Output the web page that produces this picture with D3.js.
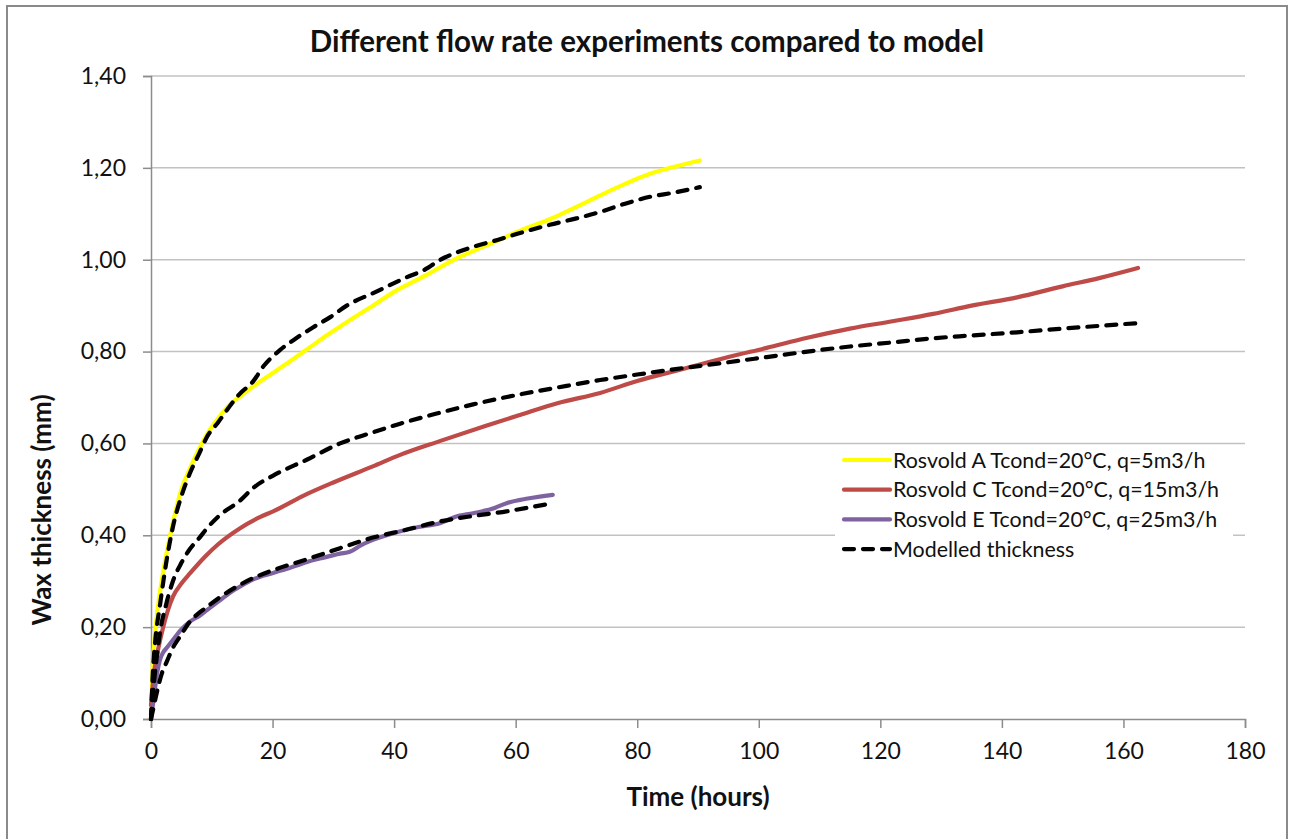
<!DOCTYPE html>
<html>
<head>
<meta charset="utf-8">
<script src="https://cdn.jsdelivr.net/npm/d3@7"></script>
<style>
  html, body { margin: 0; padding: 0; background: #fff; }
  svg { display: block; font-family: Lato, "Open Sans", sans-serif; }
</style>
</head>
<body>
<svg id="chart" width="1293" height="839"></svg>
<script>
// Rosvold A, Tcond=20°C, q=5 m3/h
const hoursA = [0, 0.3, 0.7, 1.2, 2, 3, 4, 5, 6.4, 8, 9.2, 10.5, 12.5, 14.6, 16.8, 20, 23, 25.7, 29, 32.2, 36.5, 40, 44.8, 50.3, 55, 60.7, 65.6, 70, 73.9, 78, 82.1, 86, 90.3];
const thickA = [0, 0.12, 0.19, 0.25, 0.32, 0.39, 0.45, 0.5, 0.545, 0.59, 0.62, 0.645, 0.678, 0.702, 0.724, 0.753, 0.78, 0.805, 0.836, 0.864, 0.9, 0.93, 0.963, 1.003, 1.03, 1.063, 1.088, 1.115, 1.14, 1.165, 1.187, 1.202, 1.216];

// Rosvold C, Tcond=20°C, q=15 m3/h
const hoursC = [0, 0.5, 1, 2, 3.6, 5, 6.4, 9, 11, 14.6, 18, 20.1, 25.7, 30, 36.5, 41, 47.5, 55, 60.7, 67, 73.9, 80, 87.5, 95, 101.3, 108, 115, 122, 128.7, 135, 142.5, 150, 156, 162.4];
const thickC = [0.03, 0.1, 0.14, 0.2, 0.266, 0.295, 0.317, 0.355, 0.38, 0.415, 0.44, 0.452, 0.49, 0.515, 0.55, 0.575, 0.605, 0.638, 0.662, 0.688, 0.71, 0.736, 0.762, 0.788, 0.808, 0.83, 0.85, 0.866, 0.882, 0.9, 0.918, 0.942, 0.96, 0.982];

// Rosvold E, Tcond=20°C, q=25 m3/h
const hoursE = [0, 0.3, 0.6, 1, 1.5, 2, 2.6, 3.6, 5, 6.4, 8, 9.2, 11, 13, 14.6, 17, 20.1, 23, 25.7, 28, 31.1, 32.7, 34.5, 36.5, 40, 44, 47.5, 50, 53, 56, 58.5, 62, 66.1];
const thickE = [0.01, 0.03, 0.06, 0.1, 0.13, 0.145, 0.155, 0.172, 0.195, 0.212, 0.225, 0.237, 0.255, 0.275, 0.288, 0.305, 0.318, 0.33, 0.342, 0.35, 0.36, 0.364, 0.378, 0.39, 0.405, 0.418, 0.426, 0.44, 0.448, 0.457, 0.47, 0.48, 0.488];

// Modelled thickness for each run
const modelHoursA = [0, 0.3, 0.7, 1.5, 2.5, 3.6, 5, 6.4, 8, 9.2, 11, 12.5, 14.6, 16.8, 18.5, 21.2, 24, 26.7, 29.5, 32.2, 37, 42.1, 45, 47.5, 53, 57, 60.7, 65.6, 70, 73.9, 78, 82.1, 86, 90.3];
const modelThickA = [0, 0.1, 0.17, 0.25, 0.34, 0.418, 0.485, 0.535, 0.58, 0.614, 0.645, 0.673, 0.708, 0.735, 0.768, 0.803, 0.83, 0.853, 0.875, 0.9, 0.93, 0.962, 0.978, 0.999, 1.028, 1.043, 1.058, 1.076, 1.09, 1.104, 1.122, 1.137, 1.146, 1.158];

const modelHoursC = [0, 0.5, 1, 1.5, 2.5, 3.6, 5, 6.4, 8, 9.2, 11, 14.6, 17, 20.1, 25.7, 31.1, 36, 41, 47, 53, 60, 67, 73.9, 80, 87.5, 94, 101.3, 108, 115, 122, 128.7, 135, 142.5, 150, 156, 162.4];
const modelThickC = [0, 0.08, 0.14, 0.19, 0.25, 0.3, 0.34, 0.37, 0.395, 0.415, 0.44, 0.475, 0.505, 0.53, 0.565, 0.6, 0.622, 0.643, 0.665, 0.685, 0.705, 0.722, 0.738, 0.75, 0.764, 0.775, 0.788, 0.8, 0.811, 0.82, 0.829, 0.835, 0.842, 0.85, 0.856, 0.862];

const modelHoursE = [0, 0.5, 1, 1.8, 2.6, 3.6, 4.8, 6.4, 8, 9.2, 11, 14.6, 17, 20.1, 25.7, 31.1, 36.5, 42, 47.5, 53, 58.5, 62, 66.1];
const modelThickE = [0, 0.03, 0.06, 0.1, 0.125, 0.155, 0.18, 0.212, 0.232, 0.244, 0.262, 0.292, 0.308, 0.324, 0.348, 0.372, 0.395, 0.412, 0.43, 0.442, 0.452, 0.46, 0.47];

const xTicks = [0, 20, 40, 60, 80, 100, 120, 140, 160, 180];
const yTicks = [0, 0.2, 0.4, 0.6, 0.8, 1.0, 1.2, 1.4];

const seriesNames = [
  "Rosvold A Tcond=20°C, q=5m3/h",
  "Rosvold C Tcond=20°C, q=15m3/h",
  "Rosvold E Tcond=20°C, q=25m3/h",
  "Modelled thickness"
];
const titleText = "Different flow rate experiments compared to model";
const xTitle = "Time (hours)";
const yTitle = "Wax thickness (mm)";

const colors = { A: "#FFFF00", C: "#BE4B48", E: "#7F63A1", model: "#000000" };

const svg = d3.select("#chart");
const plot = { left: 151, right: 1245, top: 76, bottom: 719 };

const x = d3.scaleLinear().domain([0, 180]).range([plot.left, plot.right]);
const y = d3.scaleLinear().domain([0, 1.4]).range([plot.bottom, plot.top]);

// Outer frame of the chart
svg.append("rect")
  .attr("x", 7).attr("y", 6).attr("width", 1280).attr("height", 850)
  .attr("fill", "#fff").attr("stroke", "#8a8a8a").attr("stroke-width", 2);

// Horizontal gridlines
svg.append("g").selectAll("line")
  .data(yTicks.filter(d => d > 0))
  .join("line")
  .attr("x1", plot.left).attr("x2", plot.right)
  .attr("y1", d => y(d)).attr("y2", d => y(d))
  .attr("stroke", "#c2c2c2").attr("stroke-width", 1.5);

// Axes
const fmt = d => d3.format(".2f")(d).replace(".", ",");
const yAxis = svg.append("g")
  .attr("transform", `translate(${plot.left},0)`)
  .call(d3.axisLeft(y).tickValues(yTicks).tickFormat(fmt).tickSize(8).tickPadding(17));
const xAxis = svg.append("g")
  .attr("transform", `translate(0,${plot.bottom})`)
  .call(d3.axisBottom(x).tickValues(xTicks).tickFormat(d3.format("d")).tickSize(9).tickPadding(15));

[yAxis, xAxis].forEach(g => {
  g.select(".domain").attr("stroke", "#8c8c8c").attr("stroke-width", 1.5);
  g.selectAll(".tick line").attr("stroke", "#8c8c8c").attr("stroke-width", 1.5);
  g.selectAll(".tick text")
    .attr("fill", "#111").attr("font-size", 23)
    .attr("font-family", "Lato, 'Open Sans', sans-serif");
});
xAxis.selectAll(".tick text").attr("dy", "0.71em");

// Lines
const line = d3.line().x(d => x(d[0])).y(d => y(d[1])).curve(d3.curveMonotoneX);
const zipPts = (t, v) => t.map((h, i) => [h, v[i]]);

const drawSeries = (t, v, color, dashed) => {
  const p = svg.append("path")
    .datum(zipPts(t, v))
    .attr("d", line)
    .attr("fill", "none")
    .attr("stroke", color)
    .attr("stroke-width", 4.2)
    .attr("stroke-linejoin", "round")
    .attr("stroke-linecap", "round");
  if (dashed) p.attr("stroke-dasharray", "10 9");
  return p;
};

drawSeries(hoursA, thickA, colors.A, false);
drawSeries(hoursC, thickC, colors.C, false);
drawSeries(hoursE, thickE, colors.E, false);
drawSeries(modelHoursA, modelThickA, colors.model, true);
drawSeries(modelHoursC, modelThickC, colors.model, true);
drawSeries(modelHoursE, modelThickE, colors.model, true);

// Legend
const legend = svg.append("g").attr("transform", "translate(835,446)");
legend.append("rect")
  .attr("x", 0).attr("y", 0).attr("width", 398).attr("height", 118)
  .attr("fill", "#fff");
const legendItems = [
  { name: seriesNames[0], color: colors.A, dashed: false },
  { name: seriesNames[1], color: colors.C, dashed: false },
  { name: seriesNames[2], color: colors.E, dashed: false },
  { name: seriesNames[3], color: colors.model, dashed: true }
];
const rowY = i => 14 + i * 29.7;
const li = legend.selectAll("g.item").data(legendItems).join("g")
  .attr("class", "item")
  .attr("transform", (d, i) => `translate(0,${rowY(i)})`);
li.append("line")
  .attr("x1", 9).attr("x2", 55).attr("y1", 0).attr("y2", 0)
  .attr("stroke", d => d.color).attr("stroke-width", 4.2)
  .attr("stroke-linecap", "round")
  .attr("stroke-dasharray", d => d.dashed ? "10 9" : null);
li.append("text")
  .attr("x", 58).attr("y", 0).attr("dy", "0.36em")
  .attr("font-size", 21.4).attr("fill", "#111")
  .text(d => d.name);

// Titles
svg.append("text")
  .attr("x", 647).attr("y", 52)
  .attr("text-anchor", "middle")
  .attr("font-size", 29.5).attr("font-weight", "bold").attr("fill", "#111")
  .text(titleText);

svg.append("text")
  .attr("x", 698).attr("y", 806)
  .attr("text-anchor", "middle")
  .attr("font-size", 26).attr("font-weight", "bold").attr("fill", "#111")
  .text(xTitle);

svg.append("text")
  .attr("transform", "translate(51,510) rotate(-90)")
  .attr("text-anchor", "middle")
  .attr("font-size", 26).attr("font-weight", "bold").attr("fill", "#111")
  .text(yTitle);
</script>
</body>
</html>
